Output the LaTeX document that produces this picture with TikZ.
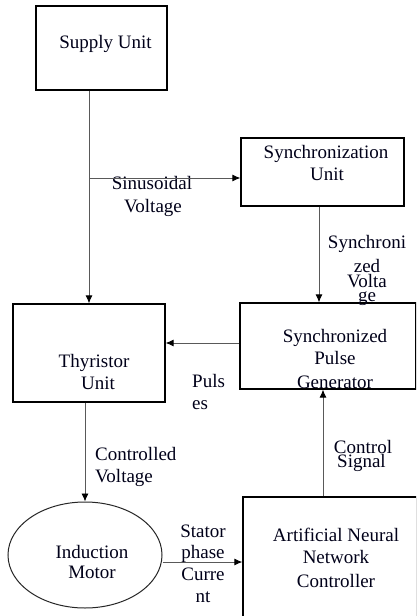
\documentclass[tikz,border=0pt]{standalone}
\usepackage{fontspec}
\setmainfont{Liberation Serif}
\usetikzlibrary{arrows.meta,shapes.geometric}
\begin{document}
\begin{tikzpicture}[x=1pt,y=-1pt,
  box/.style={draw=black,line width=1.3pt,rectangle,inner sep=0pt},
  oval/.style={draw=black!85,line width=1pt,ellipse,inner sep=0pt},
  arr/.style={draw=black!65,line width=0.9pt,-{Latex[length=8pt,width=7pt,color=black]}},
  txt/.style={font=\fontsize{19}{22}\selectfont,text=black!90!blue,inner sep=0pt,anchor=base},
  txtl/.style={txt,anchor=base west}]
\useasboundingbox (0,0) rectangle (416,616);
\fill[white] (0,0) rectangle (416,616);
\begin{scope}
\clip (0,0) rectangle (416,616);
% boxes
\node[box,minimum width=131pt,minimum height=84pt] (supply) at (101.5,48) {};
\node[box,minimum width=163pt,minimum height=68pt] (sync) at (322.5,172) {};
\node[box,minimum width=152pt,minimum height=98pt] (thy) at (89,353) {};
\node[box,minimum width=176pt,minimum height=86pt] (spg) at (328,346) {};
\node[oval,minimum width=154pt,minimum height=106pt] (motor) at (85,555) {};
\node[box,minimum width=174pt,minimum height=126pt] (ann) at (330,560) {};
% texts
\node[txt] (supplyT) at (105.5,48) {Supply Unit};
\node[txt] (syncT1) at (326,158) {Synchronization};
\node[txt] (syncT2) at (327,180) {Unit};
\node[txt] (sinT1) at (152,189) {Sinusoidal};
\node[txt] (sinT2) at (153,212) {Voltage};
\node[txt] (thyT1) at (94,367) {Thyristor};
\node[txt] (thyT2) at (98,389) {Unit};
\node[txt] (spgT1) at (335,342) {Synchronized};
\node[txt] (spgT2) at (335,364) {Pulse};
\node[txt] (spgT3) at (335,388) {Generator};
\node[txtl] (pulT1) at (192,387) {Puls};
\node[txtl] (pulT2) at (192,409) {es};
\node[txt] (szT1) at (367,248) {Synchroni};
\node[txt] (szT2) at (367,272) {zed};
\node[txt] (szT3) at (367,287) {Volta};
\node[txt] (szT4) at (367,301) {ge};
\node[txtl] (cvT1) at (95,460) {Controlled};
\node[txtl] (cvT2) at (95,482) {Voltage};
\node[txt] (motT1) at (92,558) {Induction};
\node[txt] (motT2) at (92,578) {Motor};
\node[txt] (stT1) at (203,537) {Stator};
\node[txt] (stT2) at (203,558) {phase};
\node[txt] (stT3) at (203,580) {Curre};
\node[txt] (stT4) at (203,602) {nt};
\node[txt] (annT1) at (336,541) {Artificial Neural};
\node[txt] (annT2) at (336,563) {Network};
\node[txt] (annT3) at (336,587) {Controller};
\node[txt] (csT1) at (363,453) {Control};
\node[txtl] (csT2) at (337,467) {Signal};
% connectors
\coordinate (j) at (thy.north |- 0,178);
\draw[draw=black!65,line width=0.9pt] (thy.north |- supply.south) -- (j);
\draw[arr] (j) -- (thy.north);
\draw[arr] (j) -- (j -| sync.west);
\draw[arr] ([xshift=-3.5pt]sync.south) -- ([xshift=-3.5pt]sync.south |- spg.north);
\draw[arr] ([yshift=3pt]spg.west) -- ([yshift=3pt]spg.west -| thy.east);
\draw[arr] (thy.south -| motor.north) -- (motor.north);
\draw[arr] ([yshift=-7pt]motor.east) -- ([yshift=-7pt]motor.east -| ann.west);
\draw[arr] ([xshift=-7pt]ann.north) -- ([xshift=-7pt]ann.north |- spg.south);
\end{scope}
\end{tikzpicture}
\end{document}
